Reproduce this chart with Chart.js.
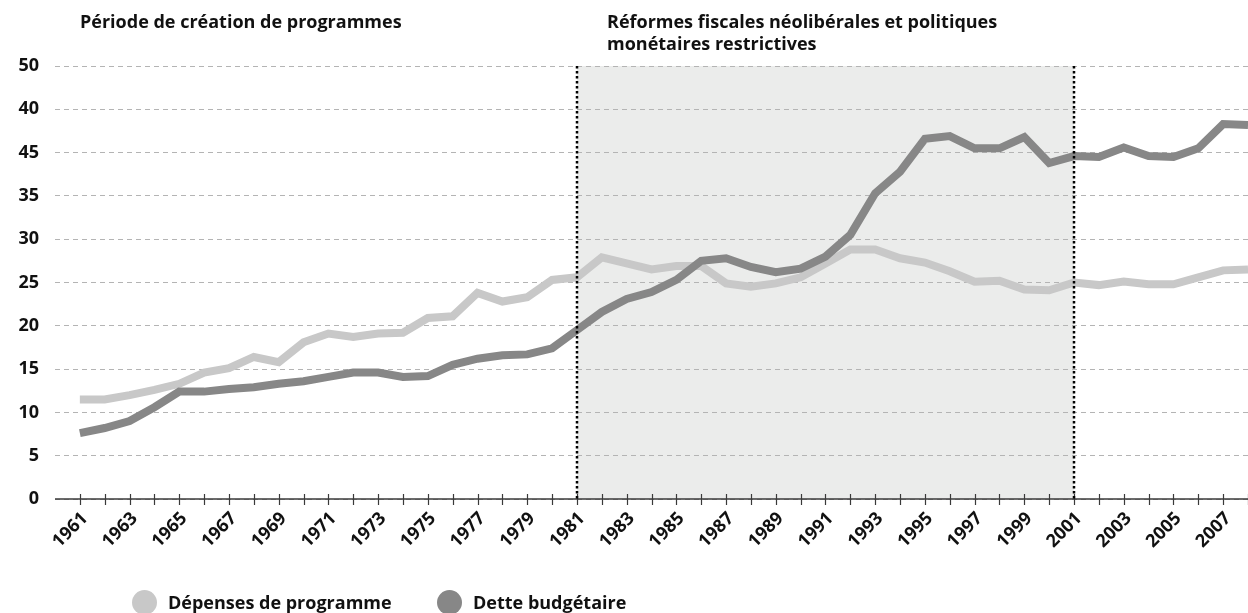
<!DOCTYPE html>
<html lang="fr">
<head>
<meta charset="utf-8">
<script src="https://cdn.jsdelivr.net/npm/chart.js@4.4.0/dist/chart.umd.min.js"></script>
<style>
body{margin:0;background:#fff;font-family:"Open Sans",sans-serif;}
#wrap{position:relative;width:1248px;height:613px;overflow:hidden;}
.titre{position:absolute;top:10px;font-weight:700;font-size:18px;line-height:22px;color:#111;white-space:nowrap;}
.leg{position:absolute;top:590px;font-weight:700;font-size:18px;line-height:25px;color:#111;display:flex;align-items:center;white-space:nowrap;}
.pt{width:25px;height:25px;border-radius:50%;margin-right:11px;}
</style>
</head>
<body>
<div id="wrap">
  <canvas id="grafica" width="1248" height="613"></canvas>
  <div class="titre" style="left:80px;">Période de création de programmes</div>
  <div class="titre" style="left:607px;">Réformes fiscales néolibérales et politiques<br>monétaires restrictives</div>
  <div class="leg" style="left:132px;"><span class="pt" style="background:#c8c8c8"></span>Dépenses de programme</div>
  <div class="leg" style="left:437px;"><span class="pt" style="background:#878787"></span>Dette budgétaire</div>
</div>
<script>
const annees = [1961,1962,1963,1964,1965,1966,1967,1968,1969,1970,
                1971,1972,1973,1974,1975,1976,1977,1978,1979,1980,
                1981,1982,1983,1984,1985,1986,1987,1988,1989,1990,
                1991,1992,1993,1994,1995,1996,1997,1998,1999,2000,
                2001,2002,2003,2004,2005,2006,2007,2008];
const depenses = [11.5,11.5,12.0,12.6,13.3,14.6,15.1,16.4,15.8,18.1,
                  19.1,18.7,19.1,19.2,20.9,21.1,23.8,22.8,23.3,25.3,
                  25.6,27.9,27.2,26.5,26.9,26.9,24.9,24.5,24.9,25.6,
                  27.2,28.8,28.8,27.8,27.3,26.3,25.1,25.2,24.2,24.1,
                  25.0,24.7,25.1,24.8,24.8,25.6,26.4,26.5];
const dette = [7.6,8.2,9.0,10.6,12.4,12.4,12.7,12.9,13.3,13.6,
               14.1,14.6,14.6,14.1,14.2,15.5,16.2,16.6,16.7,17.4,
               19.5,21.6,23.1,23.9,25.3,27.5,27.8,26.8,26.2,26.6,
               28.0,30.5,35.3,37.8,41.6,41.9,40.5,40.5,41.8,38.8,
               39.6,39.5,40.6,39.6,39.5,40.5,43.3,43.2];
// etiquettes telles qu'imprimees (40 et 45 inverses dans l'original)
const etiquettesY = ['0','5','10','15','20','25','30','35','45','40','50'];
const etiquettesX = ['1961','1963','1965','1967','1969','1971','1973','1975','1977','1979',
                     '1981','1983','1985','1987','1989','1991','1993','1995','1997','1999',
                     '2001','2003','2005','2007'];
const periode = [1981, 2001];

const police = '"Open Sans", sans-serif';

const decor = {
  id: 'decor',
  beforeDraw(chart) {
    const {ctx, chartArea, scales} = chart;
    const x1 = scales.x.getPixelForValue(periode[0]);
    const x2 = scales.x.getPixelForValue(periode[1]);
    ctx.save();
    ctx.fillStyle = '#ebeceb';
    ctx.fillRect(x1, chartArea.top, x2 - x1, chartArea.bottom - chartArea.top);
    ctx.restore();
  },
  afterDatasetsDraw(chart) {
    const {ctx, chartArea, scales} = chart;
    const bas = chartArea.bottom;
    ctx.save();
    // axe horizontal
    ctx.strokeStyle = '#3a3a3a';
    ctx.lineWidth = 1.5;
    ctx.beginPath();
    ctx.moveTo(chartArea.left, bas);
    ctx.lineTo(chartArea.right, bas);
    ctx.stroke();
    // graduations
    ctx.lineWidth = 1.2;
    for (const a of annees) {
      const x = Math.round(scales.x.getPixelForValue(a)) + 0.5;
      ctx.beginPath();
      ctx.moveTo(x, bas - 5);
      ctx.lineTo(x, bas + 6);
      ctx.stroke();
    }
    // lignes pointillees des periodes
    ctx.strokeStyle = '#000';
    ctx.lineWidth = 2.5;
    ctx.setLineDash([2.5, 2.5]);
    for (const a of periode) {
      const x = Math.round(scales.x.getPixelForValue(a));
      ctx.beginPath();
      ctx.moveTo(x, chartArea.top);
      ctx.lineTo(x, bas);
      ctx.stroke();
    }
    ctx.restore();
  }
};

var context = document.getElementById('grafica').getContext('2d');
var config = {
  type: 'line',
  data: {
    datasets: [{
      label: 'Dette budgétaire',
      data: annees.map((a, i) => ({x: a, y: dette[i]})),
      borderColor: '#878787',
      borderWidth: 8,
      pointRadius: 0,
      borderJoinStyle: 'miter',
      tension: 0
    }, {
      label: 'Dépenses de programme',
      data: annees.map((a, i) => ({x: a, y: depenses[i]})),
      borderColor: '#c8c8c8',
      borderWidth: 8,
      pointRadius: 0,
      borderJoinStyle: 'miter',
      tension: 0
    }]
  },
  options: {
    responsive: false,
    animation: false,
    layout: {padding: {top: 66, left: 0, right: 0, bottom: 0}},
    plugins: {legend: {display: false}, tooltip: {enabled: false}},
    scales: {
      x: {
        type: 'linear',
        min: 1960,
        max: 2008,
        grid: {display: false, drawTicks: false},
        border: {display: false},
        afterFit: s => { s.height = 114; s.paddingLeft = 0; s.paddingRight = 0; },
        ticks: {
          stepSize: 1,
          autoSkip: false,
          minRotation: 45,
          maxRotation: 45,
          padding: 9,
          labelOffset: 5,
          color: '#111',
          font: {family: police, size: 18, weight: 'bold'},
          callback: v => etiquettesX.includes(String(v)) ? String(v) : ''
        }
      },
      y: {
        min: 0,
        max: 50,
        afterFit: s => { s.width = 55; },
        grid: {color: '#b4b4b4', lineWidth: 1, drawTicks: false},
        border: {display: false, dash: [5, 4]},
        ticks: {
          stepSize: 5,
          padding: 16,
          color: '#111',
          font: {family: police, size: 18, weight: 'bold'},
          callback: v => etiquettesY[v / 5]
        }
      }
    }
  },
  plugins: [decor]
};
window.myChart = new Chart(context, config);
</script>
</body>
</html>
